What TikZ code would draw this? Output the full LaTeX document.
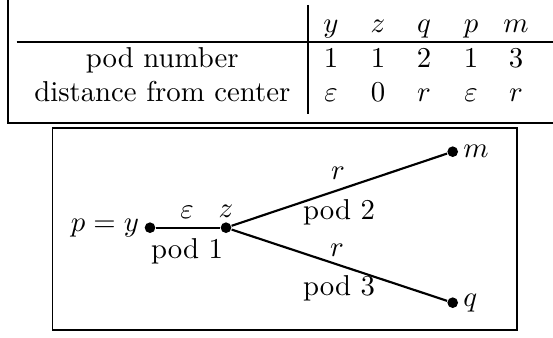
\documentclass[tikz,border=0pt]{standalone}
\usepackage{amsmath}
\begin{document}
\begin{tikzpicture}[x=0.3477pt, y=-0.3477pt,
  dot/.style={circle, fill=black, inner sep=0pt, minimum size=3.7pt},
  edge/.style={line width=0.75pt},
  frame/.style={line width=0.4pt},
  cell/.style={anchor=base, inner sep=0pt},
  lbl/.style={inner sep=0pt}]
\useasboundingbox (0,0) rectangle (553,338);
\clip (0,0) rectangle (553,338);
% table
\node[cell] (h1) at (331,33) {$y$};
\node[cell] (h2) at (378,33) {$z$};
\node[cell] (h3) at (424,33) {$q$};
\node[cell] (h4) at (471,33) {$p$};
\node[cell] (h5) at (516,33) {$m$};
\node[cell] (r1) at (162.3,67.4) {pod number};
\node[cell] (a1) at (331,67.4) {1};
\node[cell] (a2) at (378,67.4) {1};
\node[cell] (a3) at (424,67.4) {2};
\node[cell] (a4) at (471,67.4) {1};
\node[cell] (a5) at (516,67.4) {3};
\node[cell] (r2) at (162.3,102) {distance from center};
\node[cell] (b1) at (331,102) {$\varepsilon$};
\node[cell] (b2) at (378,102) {0};
\node[cell] (b3) at (424,102) {$r$};
\node[cell] (b4) at (471,102) {$\varepsilon$};
\node[cell] (b5) at (516,102) {$r$};
\coordinate (vt) at (308,5);
\coordinate (vb) at (308,114.4);
\coordinate (hl) at (16.6,42);
\coordinate (hr) at (600,42);
\draw[frame] (vt) -- (vb);
\draw[frame] (hl) -- (hr);
\coordinate (ft) at (8,-10);
\coordinate (fc) at (8,123);
\coordinate (fr) at (600,123);
\draw[frame] (ft) -- (fc) -- (fr);
% lower box
\node[draw, frame, inner sep=0pt, minimum width=161.5pt, minimum height=70.2pt] (box) at (284.75,229) {};
% graph
\node[dot] (y) at (150,227.7) {};
\node[dot] (z) at (226,227.7) {};
\node[dot] (m) at (452.7,151.7) {};
\node[dot] (q) at (452.7,302.7) {};
\draw[edge] (y) -- (z);
\draw[edge] (z) -- (m);
\draw[edge] (z) -- (q);
\node[anchor=east, inner sep=1.6pt] (pl) at (y.west) {$p = y$};
\node[lbl] (eps) at (187,212) {$\varepsilon$};
\node[lbl] (zl) at (226,211) {$z$};
\node[lbl] (pod1) at (187,251) {pod 1};
\node[lbl] (rr1) at (338,173) {$r$};
\node[lbl] (pod2) at (339,212) {pod 2};
\node[lbl] (rr2) at (337,250) {$r$};
\node[lbl] (pod3) at (339,288) {pod 3};
\node[anchor=west, inner sep=1.5pt] (ml) at (m.east) {$m$};
\node[anchor=west, inner sep=1.5pt] (ql) at (q.east) {$q$};
\end{tikzpicture}
\end{document}
